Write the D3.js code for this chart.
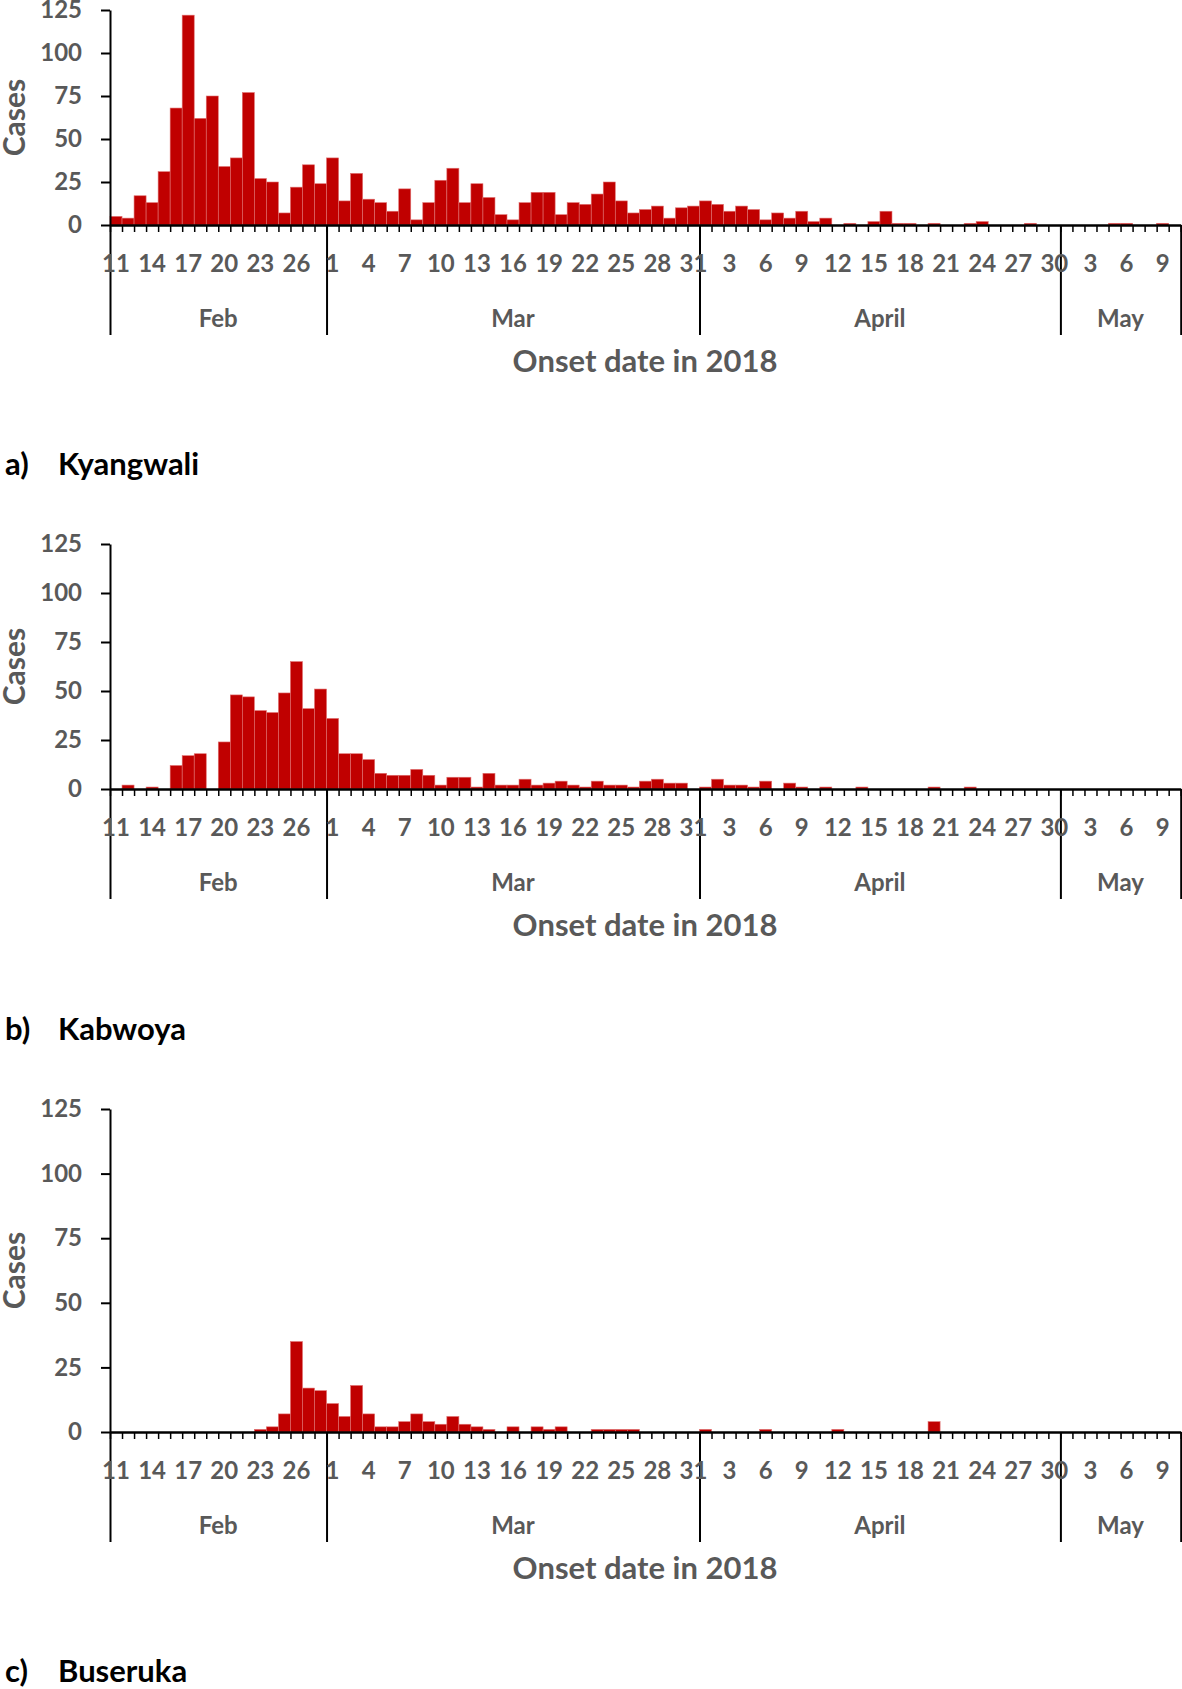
<!DOCTYPE html>
<html>
<head>
<meta charset="utf-8">
<script src="https://cdn.jsdelivr.net/npm/d3@7"></script>
<style>
    body { margin: 0; background: #fff; }
    text { font-family: Lato, "Open Sans", sans-serif; font-weight: bold; }
</style>
</head>
<body>
<div id="chart"></div>
<script>
// daily cases by onset date, 11 Feb - 10 May 2018
let startDate = new Date(2018, 1, 11);
let endDate = new Date(2018, 4, 11);

let kyangwali = [
    5, 4, 17, 13, 31, 68, 122, 62, 75, 34, 39, 77, 27, 25, 7, 22, 35, 24,
    39, 14, 30, 15, 13, 8, 21, 3, 13, 26, 33, 13, 24, 16, 6, 3, 13, 19, 19, 6, 13, 12, 18, 25, 14, 7, 9, 11, 4, 10, 11,
    14, 12, 8, 11, 9, 3, 7, 4, 8, 2, 4, 0, 1, 0, 2, 8, 1, 1, 0, 1, 0, 0, 1, 2, 0, 0, 0, 1, 0, 0,
    0, 0, 0, 0, 1, 1, 0, 0, 1, 0
];

let kabwoya = [
    0, 2, 0, 1, 0, 12, 17, 18, 0, 24, 48, 47, 40, 39, 49, 65, 41, 51,
    36, 18, 18, 15, 8, 7, 7, 10, 7, 2, 6, 6, 1, 8, 2, 2, 5, 2, 3, 4, 2, 1, 4, 2, 2, 1, 4, 5, 3, 3, 0,
    1, 5, 2, 2, 1, 4, 0, 3, 1, 0, 1, 0, 0, 1, 0, 0, 0, 0, 0, 1, 0, 0, 1, 0, 0, 0, 0, 0, 0, 0,
    0, 0, 0, 0, 0, 0, 0, 0, 0, 0
];

let buseruka = [
    0, 0, 0, 0, 0, 0, 0, 0, 0, 0, 0, 0, 1, 2, 7, 35, 17, 16,
    11, 6, 18, 7, 2, 2, 4, 7, 4, 3, 6, 3, 2, 1, 0, 2, 0, 2, 1, 2, 0, 0, 1, 1, 1, 1, 0, 0, 0, 0, 0,
    1, 0, 0, 0, 0, 1, 0, 0, 0, 0, 0, 1, 0, 0, 0, 0, 0, 0, 0, 4, 0, 0, 0, 0, 0, 0, 0, 0, 0, 0,
    0, 0, 0, 0, 0, 0, 0, 0, 0, 0
];

let yTicks = [0, 25, 50, 75, 100, 125];
let monthNames = ["Feb", "Mar", "April", "May"];
let panelTitles = [["a)", "Kyangwali"], ["b)", "Kabwoya"], ["c)", "Buseruka"]];
let xTitle = "Onset date in 2018";

let width = 1182, height = 1689;
let grey = "#595959", barColor = "#C00000";

let svg = d3.select("#chart")
    .append("svg")
    .attr("width", width)
    .attr("height", height);

let days = d3.timeDay.range(startDate, endDate);
let x = d3.scaleTime().domain([startDate, endDate]).range([110, 1180.7]);

// panel vertical layout: top of y axis, zero line, title baseline
let panels = [
    { data: kyangwali, top: 10, base: 225, titleY: 475 },
    { data: kabwoya, top: 544, base: 789, titleY: 1040 },
    { data: buseruka, top: 1109, base: 1432, titleY: 1682 }
];

panels.forEach((p, i) => drawPanel(p, panelTitles[i]));

function drawPanel(p, title) {
    let y = d3.scaleLinear().domain([0, 125]).range([p.base, p.top]);
    let g = svg.append("g");

    // bars
    g.append("g")
        .selectAll("rect")
        .data(days.map((d, k) => ({ date: d, value: p.data[k] })).filter(d => d.value > 0))
        .enter()
        .append("rect")
        .attr("x", d => x(d.date))
        .attr("width", d => x(d3.timeDay.offset(d.date, 1)) - x(d.date))
        .attr("y", d => y(d.value))
        .attr("height", d => y(0) - y(d.value))
        .attr("fill", barColor)
        .attr("stroke", "#e07070")
        .attr("stroke-width", 0.6);

    // y axis
    let yAxis = g.append("g")
        .attr("transform", `translate(110,0)`)
        .call(d3.axisLeft(y).tickValues(yTicks).tickSize(9).tickSizeOuter(0).tickPadding(19));
    yAxis.select(".domain").attr("stroke", "#000").attr("stroke-width", 2);
    yAxis.selectAll(".tick line").attr("stroke", "#000").attr("stroke-width", 2);
    yAxis.selectAll(".tick text")
        .attr("fill", grey)
        .style("font-size", "24px");

    // daily minor ticks
    let xAxis = g.append("g")
        .attr("transform", `translate(0,${p.base})`)
        .call(d3.axisBottom(x).ticks(d3.timeDay.every(1)).tickFormat("").tickSize(7).tickSizeOuter(0));
    xAxis.select(".domain").attr("stroke", "#000").attr("stroke-width", 2.5);
    xAxis.selectAll(".tick line").attr("stroke", "#000").attr("stroke-width", 1.5);

    // month separators
    let monthEdges = d3.timeMonth.range(new Date(2018, 2, 1), endDate);
    monthEdges = [startDate].concat(monthEdges, [endDate]);
    g.append("g")
        .attr("transform", `translate(0,${p.base})`)
        .call(d3.axisBottom(x).tickValues(monthEdges).tickFormat("").tickSize(110).tickSizeOuter(0))
        .call(a => a.select(".domain").remove())
        .selectAll(".tick line").attr("stroke", "#000").attr("stroke-width", 2);

    // day labels every 3 days
    g.append("g")
        .selectAll("text")
        .data(days.filter((d, k) => k % 3 === 0))
        .enter()
        .append("text")
        .attr("x", d => (x(d) + x(d3.timeDay.offset(d, 1))) / 2)
        .attr("y", p.base + 47)
        .attr("text-anchor", "middle")
        .attr("fill", grey)
        .style("font-size", "24px")
        .text(d => d.getDate());

    // month labels
    g.append("g")
        .selectAll("text")
        .data(monthNames)
        .enter()
        .append("text")
        .attr("x", (d, k) => (x(monthEdges[k]) + x(monthEdges[k + 1])) / 2)
        .attr("y", p.base + 102)
        .attr("text-anchor", "middle")
        .attr("fill", grey)
        .style("font-size", "24px")
        .text(d => d);

    // axis titles
    g.append("text")
        .attr("x", 645)
        .attr("y", p.base + 147)
        .attr("text-anchor", "middle")
        .attr("fill", grey)
        .style("font-size", "31px")
        .text(xTitle);

    g.append("text")
        .attr("transform", `translate(25,${(p.top + p.base) / 2}) rotate(-90)`)
        .attr("text-anchor", "middle")
        .attr("fill", grey)
        .style("font-size", "30px")
        .text("Cases");

    // panel label
    g.append("text")
        .attr("x", 5)
        .attr("y", p.titleY)
        .attr("fill", "#000")
        .style("font-size", "31px")
        .text(title[0]);
    g.append("text")
        .attr("x", 58)
        .attr("y", p.titleY)
        .attr("fill", "#000")
        .style("font-size", "31px")
        .text(title[1]);
}
</script>
</body>
</html>
